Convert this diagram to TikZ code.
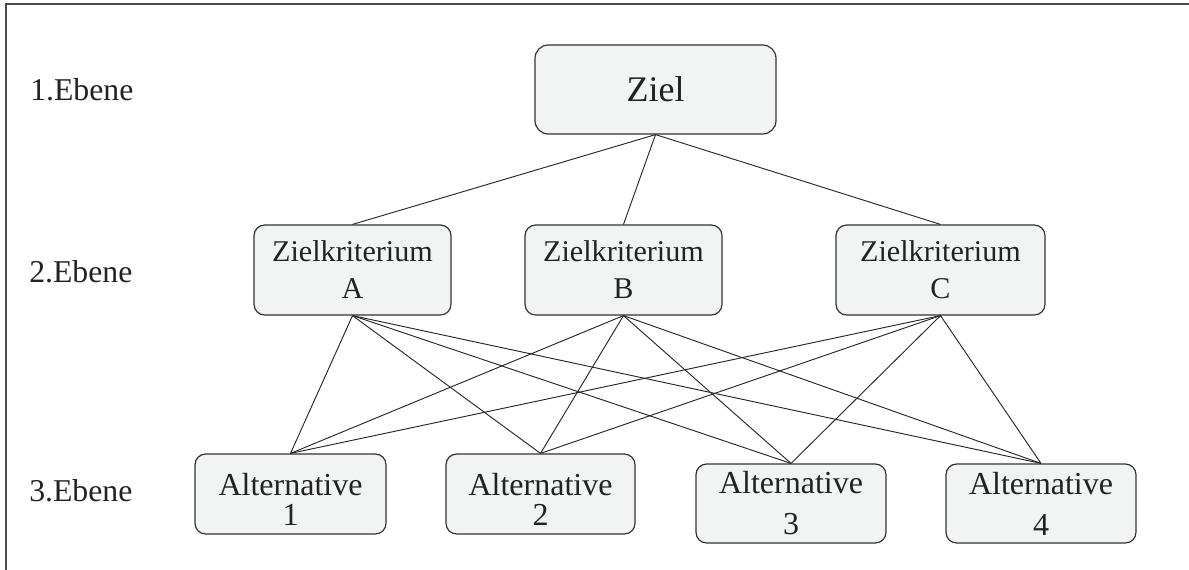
\documentclass[tikz,border=0pt]{standalone}
\usepackage{fontspec}
\setmainfont{Liberation Serif}
\definecolor{boxfill}{HTML}{F2F3F3}
\definecolor{boxline}{HTML}{333333}
\definecolor{textcol}{HTML}{222222}
\begin{document}
\begin{tikzpicture}[x=0.75pt,y=-0.75pt,
  box/.style={draw=boxline, line width=0.9pt, fill=boxfill, rounded corners=8pt,
    inner sep=0pt, align=center, text=textcol},
  zielbox/.style={box, rounded corners=10pt, minimum width=180.75pt, minimum height=66.75pt,
    font=\fontsize{27}{30}\selectfont},
  kritbox/.style={box, minimum height=67.5pt, font=\fontsize{22.6}{27.75}\selectfont},
  altboxA/.style={box, minimum height=60pt, font=\fontsize{24}{22.5}\selectfont},
  altboxB/.style={box, minimum height=59.25pt, font=\fontsize{24}{30.75}\selectfont},
  ebene/.style={anchor=base west, inner sep=0pt, text=textcol, font=\fontsize{23.8}{28}\selectfont},
  conn/.style={draw=black!85, line width=0.7pt}
]
\useasboundingbox (0,0) rectangle (1189,569);
% frame (right and bottom edges lie outside the picture)
\draw[black!70, line width=1.3pt] (6,575) -- (6,4) -- (1195,4);

% level labels
\node[ebene] (e1) at (30,100) {1.Ebene};
\node[ebene] (e2) at (29,282) {2.Ebene};
\node[ebene] (e3) at (29,501) {3.Ebene};

% nodes
\node[zielbox] (ziel) at (655.5,89.5) {Ziel};
\node[kritbox, minimum width=147.75pt] (ka) at (352.5,270) {Zielkriterium\\A};
\node[kritbox, minimum width=147.75pt] (kb) at (623.5,270) {Zielkriterium\\B};
\node[kritbox, minimum width=156.75pt] (kc) at (940.5,270) {Zielkriterium\\C};
\node[altboxA, minimum width=143.25pt] (a1) at (290.5,494) {\rule{0pt}{24pt}Alternative\\1};
\node[altboxA, minimum width=141.75pt] (a2) at (540.5,494) {\rule{0pt}{24pt}Alternative\\2};
\node[altboxB, minimum width=142.5pt] (a3) at (791,503.5) {Alternative\\3};
\node[altboxB, minimum width=142.5pt] (a4) at (1041,503.5) {Alternative\\4};

% connectors
\begin{scope}[on background layer/.try]
\end{scope}
\foreach \k in {ka,kb,kc}{
  \draw[conn] (ziel.south) -- (\k.north);
  \foreach \a in {a1,a2,a3,a4}{
    \draw[conn] (\k.south) -- (\a.north);
  }
}
\end{tikzpicture}
\end{document}
